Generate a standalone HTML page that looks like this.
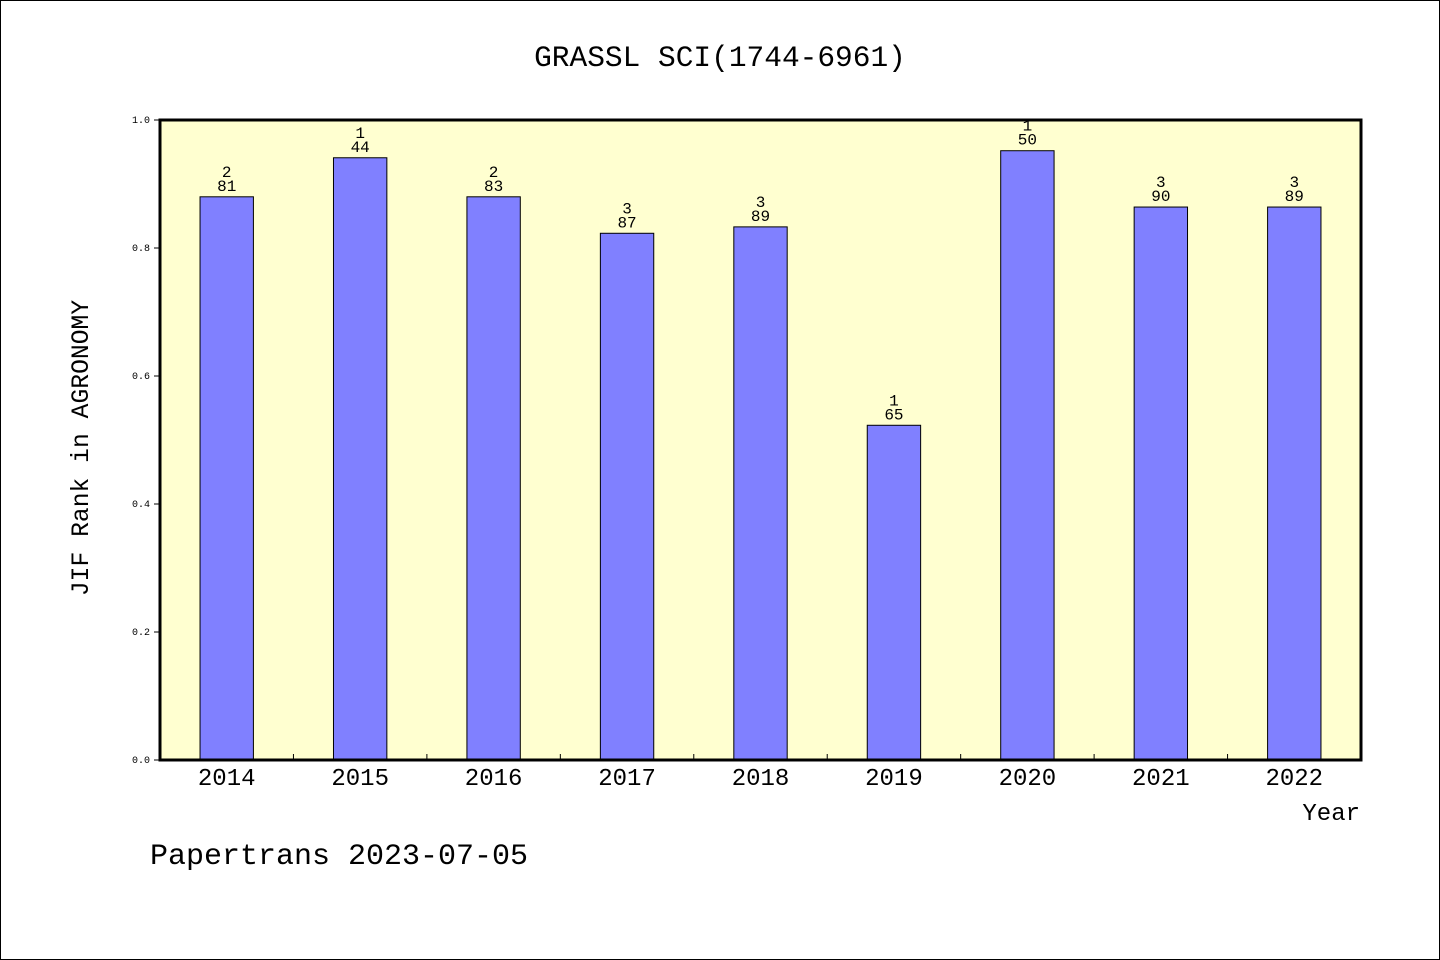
<!DOCTYPE html>
<html><head><meta charset="utf-8"><style>
html,body{margin:0;padding:0;background:#fff;}
svg{display:block;font-family:"Liberation Mono",monospace;}
</style></head><body>
<svg id="chart" width="1440" height="960" xmlns="http://www.w3.org/2000/svg">
<rect x="0.5" y="0.5" width="1439" height="959" fill="#fff" stroke="#000"/>
<text x="720" y="66" font-size="29.5" text-anchor="middle">GRASSL SCI(1744-6961)</text>
<rect x="160" y="120" width="1201" height="640" fill="#ffffd0"/>
<g id="bars"></g>
<g id="yticks"></g>
<g id="xticks"></g>
<rect x="160" y="120" width="1201" height="640" fill="none" stroke="#000" stroke-width="3"/>
<text transform="translate(88,448) rotate(-90)" font-size="24.7" text-anchor="middle">JIF Rank in AGRONOMY</text>
<text x="1360" y="820" font-size="24" text-anchor="end">Year</text>
<text x="150" y="864" font-size="30">Papertrans 2023-07-05</text>
</svg>
<script>
const years=["2014","2015","2016","2017","2018","2019","2020","2021","2022"];
const values=[0.880,0.941,0.880,0.823,0.833,0.523,0.952,0.864,0.864];
const labelTop=["2","1","2","3","3","1","1","3","3"];
const labelBottom=["81","44","83","87","89","65","50","90","89"];
const yTicks=[0,0.2,0.4,0.6,0.8,1.0];
const NS="http://www.w3.org/2000/svg";
const X0=160,X1=1361,Y0=760,Y1=120;
const band=(X1-X0)/years.length;
function xs(i){return X0+band*(i+0.5);}
function ys(v){return Y0-(Y0-Y1)*v;}
function mk(t,a,p){const e=document.createElementNS(NS,t);for(const k in a)e.setAttribute(k,a[k]);p.appendChild(e);return e;}
const gb=document.getElementById('bars'),gy=document.getElementById('yticks'),gx=document.getElementById('xticks');
const bw=band*0.4;
years.forEach((y,i)=>{
  const r=mk('rect',{x:xs(i)-bw/2,y:ys(values[i]),width:bw,height:Y0-ys(values[i]),fill:'#8080ff',stroke:'#000','stroke-width':1},gb);
  
  
  const t1=mk('text',{x:xs(i),y:ys(values[i])-20,'font-size':16,'text-anchor':'middle'},gb);t1.textContent=labelTop[i];
  
  
  const t2=mk('text',{x:xs(i),y:ys(values[i])-6,'font-size':16,'text-anchor':'middle'},gb);t2.textContent=labelBottom[i];
  
  
  const xl=mk('text',{x:xs(i),y:785,'font-size':24,'text-anchor':'middle'},gx);xl.textContent=y;
  
  
  if(i>0){const tk=mk('line',{x1:X0+band*i,x2:X0+band*i,y1:Y0,y2:Y0-6,stroke:'#000'},gx);
  
  }
});
yTicks.forEach(v=>{
  const tk=mk('line',{x1:X0-6,x2:X0,y1:ys(v),y2:ys(v),stroke:'#000'},gy);
  
  
  const l=mk('text',{x:X0-10,y:ys(v)+3,'font-size':10,'text-anchor':'end'},gy);l.textContent=v.toFixed(1);
  
  
});
</script>
</body></html>
